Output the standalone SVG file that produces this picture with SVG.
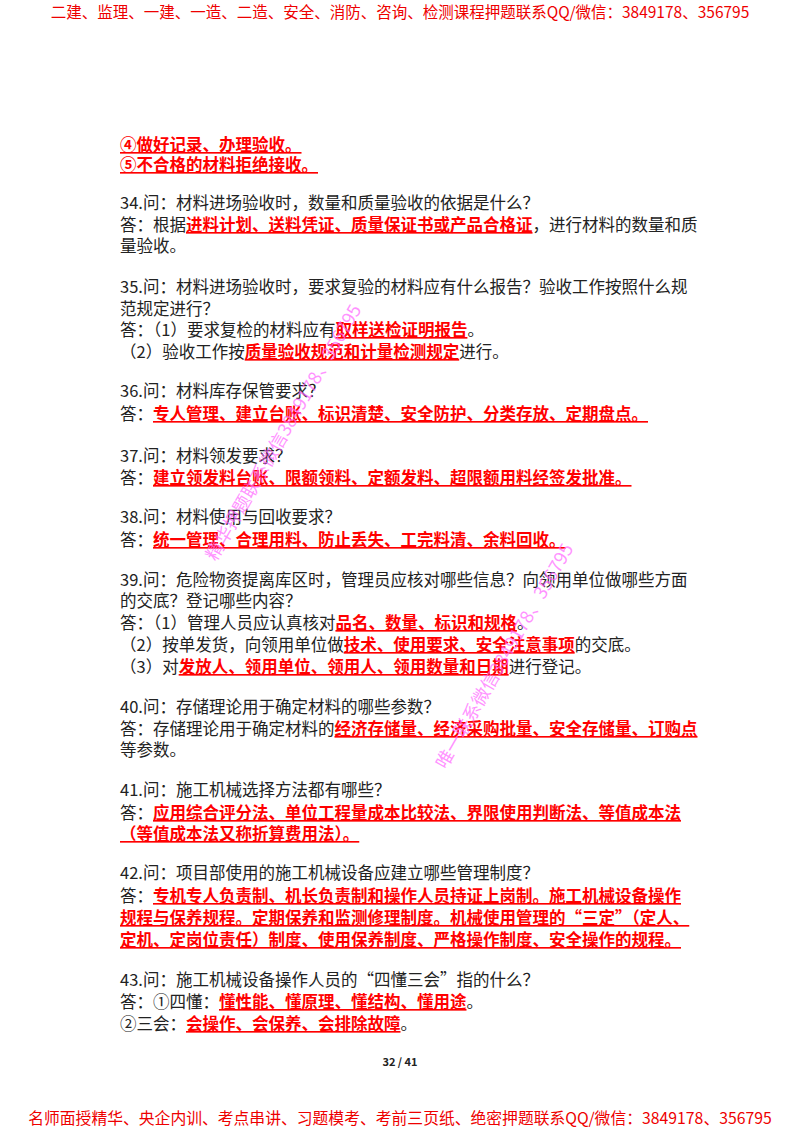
<svg xmlns="http://www.w3.org/2000/svg" width="800" height="1132" viewBox="0 0 800 1132">
<style>
text{font-family:"Noto Sans CJK SC","Noto Sans",sans-serif;font-size:16.5px;fill:#222}
.r{fill:#f00;font-weight:bold;text-decoration:underline}
.h{fill:#e00;font-size:15.5px}
.f{fill:#e00;font-size:15.8px}
.wm{fill:#f6f;font-size:18px;opacity:0.7}
</style>
<rect width="800" height="1132" fill="#fff"/>
<text class="h" x="400" y="18" text-anchor="middle">二建、监理、一建、一造、二造、安全、消防、咨询、检测课程押题联系QQ/微信：3849178、356795</text>
<text x="120" y="151"><tspan class="r">④做好记录、办理验收。</tspan></text>
<text x="120" y="171"><tspan class="r">⑤不合格的材料拒绝接收。</tspan></text>
<text x="120" y="209">34.问：材料进场验收时，数量和质量验收的依据是什么？</text>
<text x="120" y="231">答：根据<tspan class="r">进料计划、送料凭证、质量保证书或产品合格证</tspan>，进行材料的数量和质</text>
<text x="120" y="252">量验收。</text>
<text x="120" y="293">35.问：材料进场验收时，要求复验的材料应有什么报告？验收工作按照什么规</text>
<text x="120" y="315">范规定进行？</text>
<text x="120" y="336">答：（1）要求复检的材料应有<tspan class="r">取样送检证明报告</tspan>。</text>
<text x="120" y="358">（2）验收工作按<tspan class="r">质量验收规范和计量检测规定</tspan>进行。</text>
<text x="120" y="397">36.问：材料库存保管要求？</text>
<text x="120" y="420">答：<tspan class="r">专人管理、建立台账、标识清楚、安全防护、分类存放、定期盘点。</tspan></text>
<text x="120" y="462">37.问：材料领发要求？</text>
<text x="120" y="484">答：<tspan class="r">建立领发料台账、限额领料、定额发料、超限额用料经签发批准。</tspan></text>
<text x="120" y="523">38.问：材料使用与回收要求？</text>
<text x="120" y="546">答：<tspan class="r">统一管理、合理用料、防止丢失、工完料清、余料回收。</tspan></text>
<text x="120" y="586">39.问：危险物资提离库区时，管理员应核对哪些信息？向领用单位做哪些方面</text>
<text x="120" y="607">的交底？登记哪些内容？</text>
<text x="120" y="629">答：（1）管理人员应认真核对<tspan class="r">品名、数量、标识和规格</tspan>。</text>
<text x="120" y="651">（2）按单发货，向领用单位做<tspan class="r">技术、使用要求、安全注意事项</tspan>的交底。</text>
<text x="120" y="673">（3）对<tspan class="r">发放人、领用单位、领用人、领用数量和日期</tspan>进行登记。</text>
<text x="120" y="713">40.问：存储理论用于确定材料的哪些参数？</text>
<text x="120" y="735">答：存储理论用于确定材料的<tspan class="r">经济存储量、经济采购批量、安全存储量、订购点</tspan></text>
<text x="120" y="756">等参数。</text>
<text x="120" y="796">41.问：施工机械选择方法都有哪些？</text>
<text x="120" y="819">答：<tspan class="r">应用综合评分法、单位工程量成本比较法、界限使用判断法、等值成本法</tspan></text>
<text x="120" y="840"><tspan class="r">（等值成本法又称折算费用法）。</tspan></text>
<text x="120" y="879">42.问：项目部使用的施工机械设备应建立哪些管理制度？</text>
<text x="120" y="902">答：<tspan class="r">专机专人负责制、机长负责制和操作人员持证上岗制。施工机械设备操作</tspan></text>
<text x="120" y="924"><tspan class="r">规程与保养规程。定期保养和监测修理制度。机械使用管理的“三定”（定人、</tspan></text>
<text x="120" y="946"><tspan class="r">定机、定岗位责任）制度、使用保养制度、严格操作制度、安全操作的规程。</tspan></text>
<text x="120" y="986">43.问：施工机械设备操作人员的“四懂三会”指的什么？</text>
<text x="120" y="1008">答：①四懂：<tspan class="r">懂性能、懂原理、懂结构、懂用途</tspan>。</text>
<text x="120" y="1030">②三会：<tspan class="r">会操作、会保养、会排除故障</tspan>。</text>
<text x="400" y="1066" text-anchor="middle" style="font-size:11px;font-weight:bold">32 / 41</text>
<text class="f" x="400" y="1124" text-anchor="middle">名师面授精华、央企内训、考点串讲、习题模考、考前三页纸、绝密押题联系QQ/微信：3849178、356795</text>
<text class="wm" transform="translate(216,562) rotate(-60)">精华押题联系微信3849178、356795</text>
<text class="wm" transform="translate(446,770) rotate(-60)">唯一联系微信3849178、356795</text>
</svg>
